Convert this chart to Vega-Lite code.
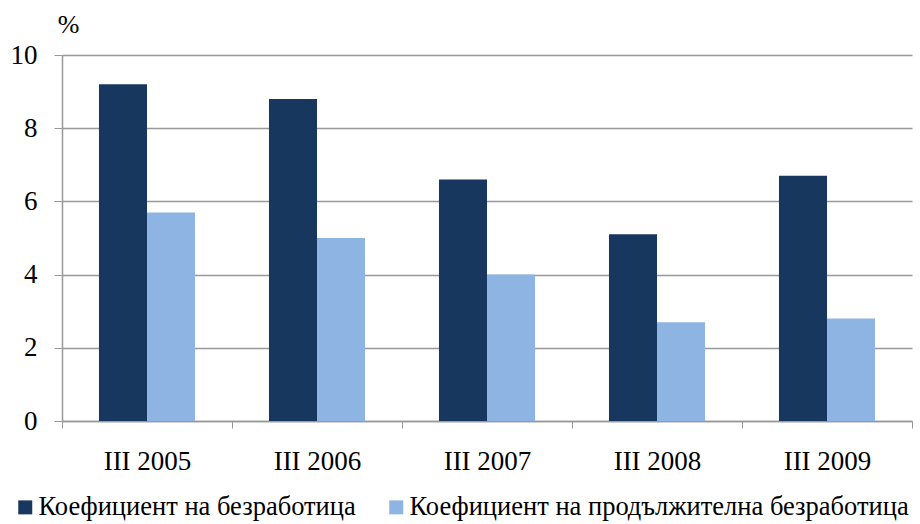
{
  "$schema": "https://vega.github.io/schema/vega-lite/v6.json",
  "width": 850,
  "height": 366,
  "autosize": {"type": "none"},
  "padding": {"left": 62, "top": 55, "right": 8, "bottom": 103},
  "background": "#ffffff",
  "config": {"view": {"stroke": null}, "font": "Liberation Serif, serif"},
  "data": {
    "values": [
      {"period": "III 2005", "series": "Коефициент на безработица", "value": 9.2},
      {"period": "III 2005", "series": "Коефициент на продължителна безработица", "value": 5.7},
      {"period": "III 2006", "series": "Коефициент на безработица", "value": 8.8},
      {"period": "III 2006", "series": "Коефициент на продължителна безработица", "value": 5.0},
      {"period": "III 2007", "series": "Коефициент на безработица", "value": 6.6},
      {"period": "III 2007", "series": "Коефициент на продължителна безработица", "value": 4.0},
      {"period": "III 2008", "series": "Коефициент на безработица", "value": 5.1},
      {"period": "III 2008", "series": "Коефициент на продължителна безработица", "value": 2.7},
      {"period": "III 2009", "series": "Коефициент на безработица", "value": 6.7},
      {"period": "III 2009", "series": "Коефициент на продължителна безработица", "value": 2.8}
    ]
  },
  "mark": {"type": "bar"},
  "encoding": {
    "x": {
      "field": "period", "type": "nominal",
      "scale": {"paddingInner": 0, "paddingOuter": 0},
      "axis": {
        "title": null, "labelAngle": 0, "labelFontSize": 27, "labelColor": "#000000",
        "labelPadding": 20, "tickBand": "extent", "tickSize": 7, "tickColor": "#999999",
        "domainColor": "#999999", "domainWidth": 1.5, "labelFont": "Liberation Serif, serif",
        "labelOverlap": false
      }
    },
    "xOffset": {
      "field": "series", "type": "nominal",
      "scale": {"paddingOuter": 0.77, "paddingInner": 0}
    },
    "y": {
      "field": "value", "type": "quantitative",
      "scale": {"domain": [0, 10]},
      "axis": {
        "title": "%", "titleAngle": 0, "titleX": 6, "titleY": -31, "titleAlign": "center",
        "titleBaseline": "middle", "titleFontSize": 26, "titleFontWeight": "normal", "titleColor": "#000000",
        "titleFont": "Liberation Serif, serif",
        "values": [0, 2, 4, 6, 8, 10], "labelOverlap": false,
        "labelFontSize": 27, "labelColor": "#000000", "labelPadding": 17,
        "tickSize": 8, "tickColor": "#999999", "domainColor": "#999999", "domainWidth": 1.5,
        "gridColor": "#999999", "gridWidth": 1.5, "labelFont": "Liberation Serif, serif"
      }
    },
    "color": {
      "field": "series", "type": "nominal",
      "scale": {"range": ["#17375E", "#8EB4E3"]},
      "legend": {
        "title": null, "orient": "none", "direction": "horizontal",
        "legendX": -50, "legendY": 439,
        "symbolType": "square", "symbolSize": 196, "symbolStrokeWidth": 0,
        "labelFontSize": 26.5, "labelColor": "#000000", "labelOffset": 0, "columnPadding": 27,
        "labelLimit": 600, "labelFont": "Liberation Serif, serif"
      }
    }
  }
}
